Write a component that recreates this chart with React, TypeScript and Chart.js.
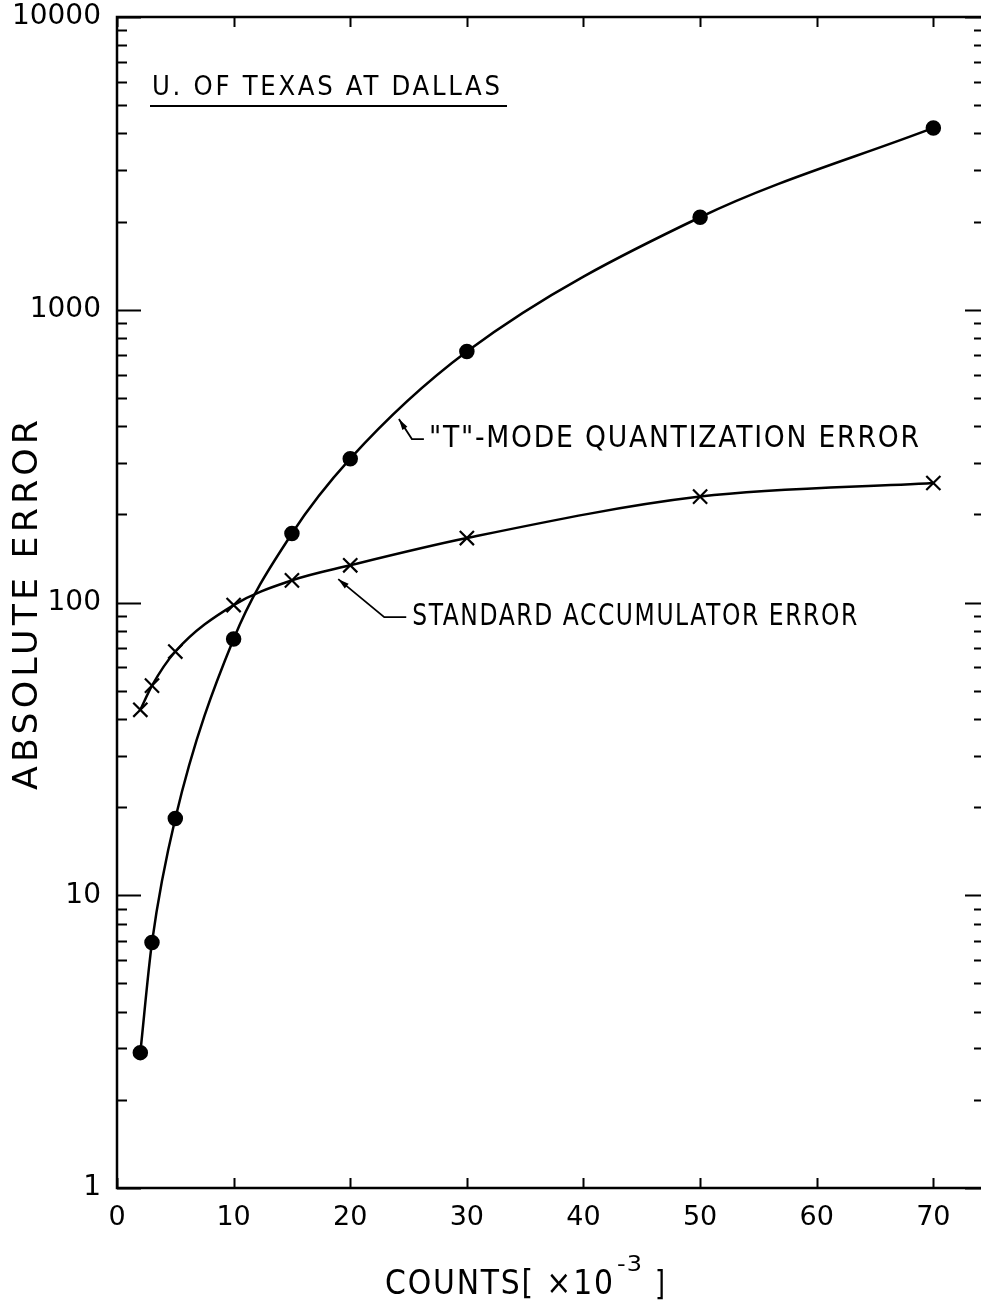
import React, { useEffect, useRef } from "react";
import { Chart, registerables } from "chart.js";
Chart.register(...registerables);

// ---- data ----
const countsT = [2, 3, 5, 10, 15, 20, 30, 50, 70];
const tModeError = [2.9, 6.9, 18.3, 75, 172, 310, 720, 2070, 4180];
const countsS = [2, 3, 5, 10, 15, 20, 30, 50, 70];
const standardError = [43, 52, 68, 98, 119, 134, 166, 230, 256];

const yLabelValues = [1, 10, 100, 1000, 10000];
const yMultipliers = [1, 2, 3, 4, 5, 6, 7, 8, 9];
const xTickValues = [0, 10, 20, 30, 40, 50, 60, 70];

const yTitle = "ABSOLUTE ERROR";
const xTitleMain = "COUNTS[ \u00d710";
const xTitleSup = "-3";
const xTitleEnd = "]";
const labelTop = "U. OF TEXAS AT DALLAS";
const labelT = "\"T\"-MODE QUANTIZATION ERROR";
const labelS = "STANDARD ACCUMULATOR ERROR";
// annotation anchor points on the curves (data coords)
const anchorT = { x: 24, y: 430 };
const anchorS = { x: 18.8, y: 123 };

const W = 981;
const H = 1309;
const FONT = '"DejaVu Sans", sans-serif';

function yTickList(): number[] {
  const out: number[] = [];
  yLabelValues.forEach((d, i) => {
    if (i === yLabelValues.length - 1) out.push(d);
    else yMultipliers.forEach((m) => out.push(d * m));
  });
  return out;
}

// draw text starting at x, fitted to a given width using a fixed letter
// spacing and a horizontal scale
function fitText(
  ctx: CanvasRenderingContext2D,
  text: string,
  x: number,
  y: number,
  width: number,
  spacing = 2
) {
  (ctx as any).letterSpacing = spacing + "px";
  const w = ctx.measureText(text).width - spacing;
  const sx = width / w;
  ctx.save();
  ctx.translate(x, y);
  ctx.scale(sx, 1);
  ctx.textAlign = "left";
  ctx.fillText(text, 0, 0);
  ctx.restore();
  (ctx as any).letterSpacing = "0px";
}

const framePlugin = {
  id: "frame",
  afterDraw(chart: any) {
    const { ctx, chartArea: a, scales } = chart;
    const x = scales.x;
    const y = scales.y;
    ctx.save();
    ctx.strokeStyle = "#000";
    ctx.fillStyle = "#000";
    ctx.lineWidth = 2.5;
    ctx.beginPath();
    ctx.moveTo(W, a.top);
    ctx.lineTo(a.left, a.top);
    ctx.lineTo(a.left, a.bottom);
    ctx.lineTo(W, a.bottom);
    ctx.stroke();

    ctx.lineWidth = 2;
    yTickList().forEach((v) => {
      const py = Math.round(y.getPixelForValue(v)) + 0.5;
      const major = yLabelValues.includes(v);
      ctx.beginPath();
      ctx.moveTo(a.left, py);
      ctx.lineTo(a.left + (major ? 24 : 10), py);
      ctx.moveTo(W, py);
      ctx.lineTo(W - (major ? 16 : 7), py);
      ctx.stroke();
    });
    xTickValues.forEach((v) => {
      const px = Math.round(x.getPixelForValue(v)) + 0.5;
      ctx.beginPath();
      ctx.moveTo(px, a.bottom);
      ctx.lineTo(px, a.bottom - 10);
      ctx.moveTo(px, a.top);
      ctx.lineTo(px, a.top + 10);
      ctx.stroke();
    });

    ctx.textBaseline = "middle";
    // y title
    ctx.save();
    ctx.font = `33px ${FONT}`;
    ctx.translate(28, 605);
    ctx.rotate(-Math.PI / 2);
    fitText(ctx, yTitle, -185, 0, 370, 4);
    ctx.restore();

    // x title
    ctx.font = `33px ${FONT}`;
    fitText(ctx, xTitleMain, 385, 1285, 228, 2);
    ctx.font = `22px ${FONT}`;
    fitText(ctx, xTitleSup, 617, 1265, 25, 1);
    ctx.font = `34px ${FONT}`;
    fitText(ctx, xTitleEnd, 655, 1286, 10, 0);

    // header label
    ctx.font = `27px ${FONT}`;
    fitText(ctx, labelTop, 152, 88, 348, 3);
    ctx.lineWidth = 2.2;
    ctx.beginPath();
    ctx.moveTo(150, 106);
    ctx.lineTo(507, 106);
    ctx.stroke();

    const drawLeader = (ax: number, ay: number, cx: number, cy: number, ex: number) => {
      ctx.lineWidth = 1.8;
      ctx.beginPath();
      ctx.moveTo(ex, cy);
      ctx.lineTo(cx, cy);
      ctx.lineTo(ax, ay);
      ctx.stroke();
      const ang = Math.atan2(ay - cy, ax - cx);
      const L = 11;
      const hw = 3;
      ctx.beginPath();
      ctx.moveTo(ax, ay);
      ctx.lineTo(ax - L * Math.cos(ang) + hw * Math.sin(ang), ay - L * Math.sin(ang) - hw * Math.cos(ang));
      ctx.lineTo(ax - L * Math.cos(ang) - hw * Math.sin(ang), ay - L * Math.sin(ang) + hw * Math.cos(ang));
      ctx.closePath();
      ctx.fill();
    };
    ctx.font = `30px ${FONT}`;
    const tx = x.getPixelForValue(anchorT.x);
    const ty = y.getPixelForValue(anchorT.y);
    drawLeader(tx + 2, ty + 2, tx + 15, ty + 22, tx + 27);
    fitText(ctx, labelT, tx + 32, ty + 22, 490, 2);

    const sx = x.getPixelForValue(anchorS.x);
    const sy = y.getPixelForValue(anchorS.y);
    drawLeader(sx + 2, sy + 3, sx + 48, sy + 41, sx + 70);
    fitText(ctx, labelS, sx + 76, sy + 41, 445, 2);
    ctx.restore();
  },
};

export default function App() {
  const ref = useRef<HTMLCanvasElement | null>(null);
  useEffect(() => {
    document.body.style.margin = "0";
    const canvas = ref.current;
    if (!canvas) return;
    const chart = new Chart(canvas, {
      type: "line",
      data: {
        datasets: [
          {
            label: labelT,
            data: countsT.map((c, i) => ({ x: c, y: tModeError[i] })),
            borderColor: "#000",
            backgroundColor: "#000",
            borderWidth: 2.5,
            pointStyle: "circle",
            pointRadius: 6.5,
            pointBackgroundColor: "#000",
            pointBorderColor: "#000",
            cubicInterpolationMode: "monotone",
            fill: false,
          },
          {
            label: labelS,
            data: countsS.map((c, i) => ({ x: c, y: standardError[i] })),
            borderColor: "#000",
            backgroundColor: "#000",
            borderWidth: 2.5,
            pointStyle: "crossRot",
            pointRadius: 10,
            pointBorderWidth: 2.2,
            pointBorderColor: "#000",
            cubicInterpolationMode: "monotone",
            fill: false,
          },
        ],
      },
      options: {
        animation: false,
        responsive: false,
        maintainAspectRatio: false,
        layout: { autoPadding: false, padding: { top: 17, right: 1, left: 0, bottom: 0 } },
        plugins: { legend: { display: false }, tooltip: { enabled: false } },
        scales: {
          x: {
            type: "linear",
            min: 0,
            max: 74,
            grid: { display: false, drawTicks: false },
            border: { display: false },
            afterBuildTicks: (s: any) => {
              s.ticks = xTickValues.map((v) => ({ value: v }));
            },
            afterFit: (s: any) => {
              s.height = H - 1188;
              s.paddingLeft = 0;
              s.paddingRight = 0;
            },
            ticks: {
              autoSkip: false,
              maxRotation: 0,
              padding: 14,
              color: "#000",
              font: { family: FONT, size: 27 },
              callback: (v: any) => String(v),
            },
          },
          y: {
            type: "logarithmic",
            min: 1,
            max: 10000,
            grid: { display: false, drawTicks: false },
            border: { display: false },
            afterBuildTicks: (s: any) => {
              s.ticks = yTickList().map((v) => ({ value: v }));
            },
            afterFit: (s: any) => {
              s.width = 117;
              s.paddingTop = 0;
              s.paddingBottom = 0;
            },
            ticks: {
              autoSkip: false,
              padding: 16,
              color: "#000",
              font: { family: FONT, size: 28 },
              callback: (v: any) => (yLabelValues.includes(Number(v)) ? String(v) : ""),
            },
          },
        },
      },
      plugins: [framePlugin],
    } as any);
    return () => chart.destroy();
  }, []);
  return (
    <div style={{ position: "absolute", left: 0, top: 0, width: W, height: H, background: "#fff", overflow: "hidden" }}>
      <canvas ref={ref} width={W} height={H} style={{ display: "block", width: W, height: H }} />
    </div>
  );
}
